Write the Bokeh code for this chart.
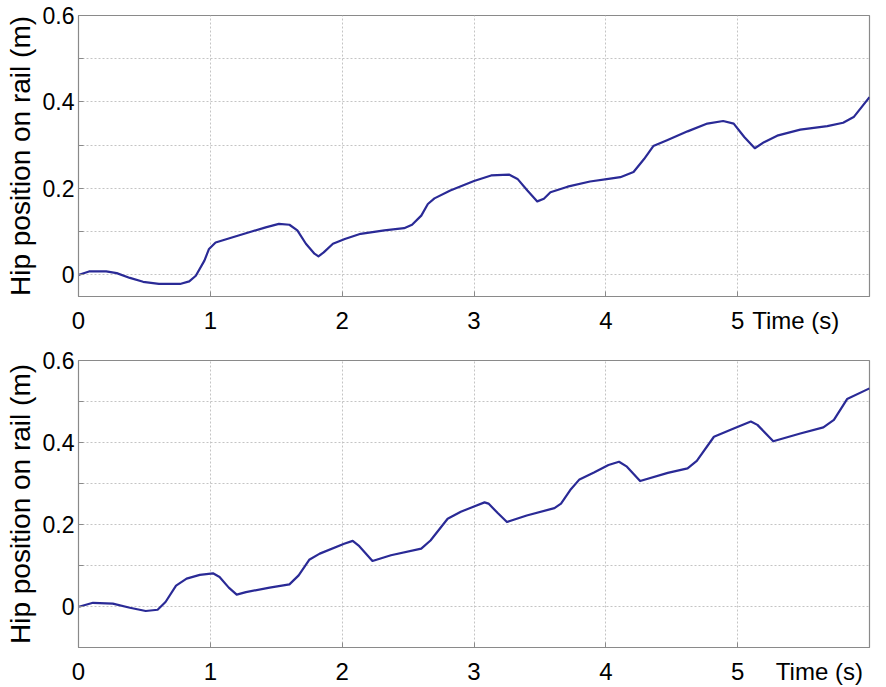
from bokeh.plotting import figure
from bokeh.layouts import column
from bokeh.models import FixedTicker, Range1d
from bokeh.embed import file_html
from bokeh.resources import INLINE

# ---- data ----
t_top = [0.0, 0.01, 0.08, 0.21, 0.29, 0.39, 0.49, 0.61, 0.77, 0.84, 0.89, 0.955, 0.99, 1.04,
         1.17, 1.32, 1.42, 1.52, 1.60, 1.66, 1.725, 1.79, 1.82, 1.86, 1.93, 2.02, 2.14, 2.32,
         2.47, 2.53, 2.60, 2.65, 2.70, 2.82, 3.00, 3.13, 3.265, 3.33, 3.405, 3.48, 3.53, 3.58,
         3.71, 3.88, 4.02, 4.11, 4.21, 4.29, 4.36, 4.46, 4.62, 4.77, 4.89, 4.97, 5.05, 5.13,
         5.20, 5.30, 5.475, 5.68, 5.80, 5.88, 6.00]
y_top = [0.0, 0.001, 0.008, 0.008, 0.004, -0.007, -0.016, -0.021, -0.021, -0.015, -0.002,
         0.033, 0.060, 0.075, 0.087, 0.101, 0.110, 0.118, 0.116, 0.103, 0.072, 0.049, 0.043,
         0.052, 0.072, 0.083, 0.095, 0.103, 0.108, 0.116, 0.137, 0.164, 0.177, 0.195, 0.217,
         0.230, 0.232, 0.222, 0.195, 0.170, 0.176, 0.191, 0.204, 0.216, 0.222, 0.226, 0.238,
         0.268, 0.298, 0.311, 0.332, 0.350, 0.356, 0.350, 0.319, 0.293, 0.307, 0.322, 0.336,
         0.344, 0.352, 0.365, 0.411]

t_bot = [0.0, 0.01, 0.11, 0.26, 0.39, 0.51, 0.60, 0.66, 0.74, 0.82, 0.92, 1.02, 1.07, 1.14,
         1.20, 1.27, 1.45, 1.60, 1.67, 1.75, 1.83, 2.015, 2.08, 2.13, 2.23, 2.37, 2.60, 2.67,
         2.80, 2.90, 3.00, 3.08, 3.11, 3.18, 3.25, 3.40, 3.61, 3.66, 3.73, 3.80, 3.91, 4.02,
         4.10, 4.16, 4.26, 4.47, 4.62, 4.69, 4.82, 4.97, 5.10, 5.15, 5.27, 5.475, 5.65, 5.73,
         5.83, 6.00]
y_bot = [0.0, 0.0, 0.009, 0.007, -0.003, -0.011, -0.008, 0.011, 0.051, 0.068, 0.077, 0.081,
         0.072, 0.046, 0.029, 0.035, 0.046, 0.054, 0.076, 0.114, 0.129, 0.153, 0.160, 0.147,
         0.111, 0.125, 0.141, 0.161, 0.214, 0.231, 0.244, 0.254, 0.251, 0.228, 0.206, 0.222,
         0.240, 0.251, 0.284, 0.310, 0.327, 0.345, 0.353, 0.341, 0.306, 0.326, 0.337, 0.355,
         0.414, 0.434, 0.451, 0.443, 0.403, 0.422, 0.437, 0.455, 0.506, 0.532]

x_ticks = [0, 1, 2, 3, 4, 5]
y_major = [0, 0.2, 0.4, 0.6]
y_minor = [0.1, 0.3, 0.5]
x_label = "Time (s)"
y_label = "Hip position on rail (m)"

FONT = "Liberation Sans"
LINE_COLOR = "#2a2a96"
GRID_COLOR = "#c4c4c4"
FRAME_COLOR = "#8a8a8a"


def make_panel(t, y, y_start, height, border_top, border_bottom, label_pos):
    p = figure(width=886, height=height, output_backend="svg", toolbar_location=None,
               x_range=Range1d(0, 6), y_range=Range1d(y_start, 0.6),
               min_border_left=78, min_border_right=17,
               min_border_top=border_top, min_border_bottom=border_bottom)
    p.outline_line_color = FRAME_COLOR
    p.outline_line_width = 1.2

    # x axis: numeric ticks plus the axis title placed in the tick-label row
    p.xaxis.ticker = FixedTicker(ticks=x_ticks + [label_pos], minor_ticks=x_ticks[1:])
    p.xaxis.major_label_overrides = {label_pos: x_label, str(label_pos): x_label}
    p.xgrid.ticker = FixedTicker(ticks=x_ticks)
    p.yaxis.ticker = FixedTicker(ticks=y_major, minor_ticks=y_minor)

    for ax in (p.xaxis[0], p.yaxis[0]):
        ax.axis_line_color = FRAME_COLOR
        ax.major_tick_out = 0
        ax.minor_tick_in = 5
        ax.minor_tick_out = 0
        ax.major_tick_line_color = FRAME_COLOR
        ax.minor_tick_line_color = FRAME_COLOR
        ax.major_label_text_font = FONT
        ax.major_label_text_color = "black"
    p.xaxis.major_tick_in = 0
    p.yaxis.major_tick_in = 5
    p.xaxis.major_label_text_font_size = "24px"
    p.yaxis.major_label_text_font_size = "23px"
    p.xaxis.major_label_standoff = 10
    p.yaxis.major_label_standoff = 4
    p.yaxis.axis_label = y_label
    p.yaxis.axis_label_text_font = FONT
    p.yaxis.axis_label_text_font_size = "28px"
    p.yaxis.axis_label_text_font_style = "normal"
    p.yaxis.axis_label_text_color = "black"
    p.yaxis.axis_label_standoff = 4

    for g in (p.xgrid[0], p.ygrid[0]):
        g.grid_line_color = GRID_COLOR
        g.grid_line_dash = "2 2"
        g.grid_line_width = 1
    p.ygrid.minor_grid_line_color = GRID_COLOR
    p.ygrid.minor_grid_line_dash = "2 2"

    p.line(t, y, line_color=LINE_COLOR, line_width=2.2, line_join="round")
    return p


top = make_panel(t_top, y_top, -0.05, 336, 15, 40, 5.44)
bottom = make_panel(t_bot, y_bot, -0.1, 351, 24, 40, 5.62)

layout = column(top, bottom, spacing=0)
open("out.html", "w").write(file_html(layout, INLINE))
